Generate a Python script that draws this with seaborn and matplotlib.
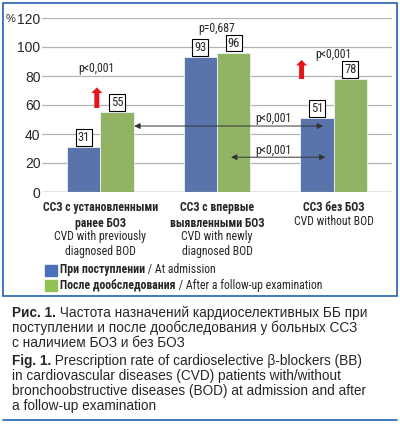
import pandas as pd
import matplotlib.pyplot as plt
import seaborn as sns
from matplotlib.patches import Rectangle
from matplotlib.lines import Line2D

# данные с рисунка
groups = ['g1', 'g2', 'g3']
at_admission = [31, 93, 51]
after_followup = [55, 96, 78]
periods = ['При поступлении', 'После дообследования']
group_bold = ['ССЗ с установленными\nранее БОЗ', 'ССЗ с впервые\nвыявленными БОЗ', 'ССЗ без БОЗ']
group_en = ['CVD with previously\ndiagnosed BOD', 'CVD with newly\ndiagnosed BOD', 'CVD without BOD']
legend_en = [' / At admission', ' / After a follow-up examination']
yticks = [0, 20, 40, 60, 80, 100, 120]

BLUE = '#4a70b8'
GREEN = '#92c156'
FRAME = '#2260ad'

df = pd.DataFrame({
    'group': groups * 2,
    'value': at_admission + after_followup,
    'period': [periods[0]] * 3 + [periods[1]] * 3,
})

sns.set_style('white')
NARROW = ['Roboto Condensed', 'PT Sans Narrow', 'DejaVu Sans']
plt.rcParams['font.family'] = NARROW
cap_font = ['Liberation Sans', 'DejaVu Sans']

W, H = 400, 424
fig = plt.figure(figsize=(4.0, 4.24), dpi=100)


def fx(px):
    return px / W


def fy(py):
    return 1 - py / H


ax = fig.add_axes([fx(42), fy(192), fx(350), (192 - 18) / H])
sns.barplot(data=df, x='group', y='value', hue='period', palette=[BLUE, GREEN],
            width=0.57, gap=0, edgecolor='#eef2f8', linewidth=0.6, ax=ax, legend=False)
ax.set_xlim(-0.5, 2.5)
ax.set_ylim(0, 120)
ax.set_yticks(yticks)
ax.set_yticklabels([str(t) for t in yticks], fontsize=10, family=cap_font)
ax.tick_params(axis='y', length=0, pad=1)
ax.set_xticks([])
ax.set_xlabel('')
ax.set_ylabel('')
for s in ax.spines.values():
    s.set_visible(False)
for t in yticks:
    ax.axhline(t, color='#b4b4b4', lw=0.9, zorder=0)
ax.axhline(0, color='#9a9a9a', lw=1.0, zorder=3)
fig.text(fx(6), fy(18.5), '%', fontsize=8, family=cap_font, va='center', ha='left')

# подписи значений в рамках
for i, (a, b) in enumerate(zip(at_admission, after_followup)):
    for dx, v in ((-0.1425, a), (0.1425, b)):
        ax.annotate(str(v), xy=(i + dx, v), xytext=(0, 7), textcoords='offset points',
                    ha='center', va='center', fontsize=9,
                    bbox=dict(boxstyle='square,pad=0.15', fc='white', ec='black', lw=0.8))

# красные стрелки
red = dict(arrowstyle='simple,head_length=0.5,head_width=1.0,tail_width=0.45',
           color='#e3141b', lw=0)
ax.annotate('', xy=(-0.03, 74), xytext=(-0.03, 56), arrowprops=dict(red, mutation_scale=8))
ax.annotate('', xy=(1.725, 93), xytext=(1.725, 76), arrowprops=dict(red, mutation_scale=8))

# двусторонние стрелки
dbl = dict(arrowstyle='<|-|>,head_length=0.5,head_width=0.25', color='#333333',
           lw=0.7, mutation_scale=7, shrinkA=0, shrinkB=0)
ax.annotate('', xy=(0.29, 45.5), xytext=(1.91, 45.5), arrowprops=dbl)
ax.annotate('', xy=(1.12, 24), xytext=(1.93, 24), arrowprops=dbl)

ax.text(-0.03, 85, 'p<0,001', ha='center', va='center', fontsize=8.5)
ax.text(1.0, 113, 'p=0,687', ha='center', va='center', fontsize=8.5)
ax.text(2.0, 94.5, 'p<0,001', ha='center', va='center', fontsize=8.5)
ax.text(1.48, 51, 'p<0,001', ha='center', va='center', fontsize=8.5)
ax.text(1.48, 28.5, 'p<0,001', ha='center', va='center', fontsize=8.5)

# подписи групп
for i in range(3):
    nb = group_bold[i].count('\n') + 1
    ax.annotate(group_bold[i], xy=(i, 0), xycoords=('data', 'axes fraction'),
                xytext=(0, -6.5), textcoords='offset points', ha='center', va='top',
                fontsize=8.5, fontweight='bold', linespacing=1.25)
    ax.annotate(group_en[i], xy=(i, 0), xycoords=('data', 'axes fraction'),
                xytext=(0, -6.5 - nb * 10.4), textcoords='offset points', ha='center', va='top',
                fontsize=8.5, linespacing=1.25)

renderer = fig.canvas.get_renderer()


def rich(x, y, parts, size, family=None):
    # текст из частей разной жирности подряд
    for txt, weight in parts:
        kw = {} if family is None else {'family': family}
        t = fig.text(x, y, txt, fontsize=size, fontweight=weight, va='center', ha='left', **kw)
        bb = t.get_window_extent(renderer)
        x = bb.x1 / (W * fig.dpi / 100)


# легенда
for k, (col, yc) in enumerate(((BLUE, 270), (GREEN, 285))):
    fig.patches.append(Rectangle((fx(45), fy(yc + 5.5)), fx(12), 11 / H, color=col,
                                 transform=fig.transFigure))
    rich(fx(60), fy(yc), [(periods[k], 'bold'), (legend_en[k], 'normal')], 8.5)

# рамка
fig.patches.append(Rectangle((fx(3), fy(296)), fx(394), 293 / H, fill=False, ec=FRAME,
                             lw=1.2, transform=fig.transFigure))
fig.lines.append(Line2D([fx(3), fx(397)], [fy(420), fy(420)], color=FRAME, lw=1.2,
                        transform=fig.transFigure))

# подпись к рисунку
rich(fx(12), fy(313), [('Рис. 1.', 'bold'), (' Частота назначений кардиоселективных ББ при', 'normal')], 9.8, cap_font)
rich(fx(12), fy(328), [('поступлении и после дообследования у больных ССЗ', 'normal')], 9.8, cap_font)
rich(fx(12), fy(343), [('с наличием БОЗ и без БОЗ', 'normal')], 9.8, cap_font)
rich(fx(12), fy(361), [('Fig. 1.', 'bold'), (' Prescription rate of cardioselective β-blockers (BB)', 'normal')], 9.8, cap_font)
rich(fx(12), fy(376), [('in cardiovascular diseases (CVD) patients with/without', 'normal')], 9.8, cap_font)
rich(fx(12), fy(391), [('bronchoobstructive diseases (BOD) at admission and after', 'normal')], 9.8, cap_font)
rich(fx(12), fy(406), [('a follow-up examination', 'normal')], 9.8, cap_font)

fig.savefig('out.png', dpi=100)
